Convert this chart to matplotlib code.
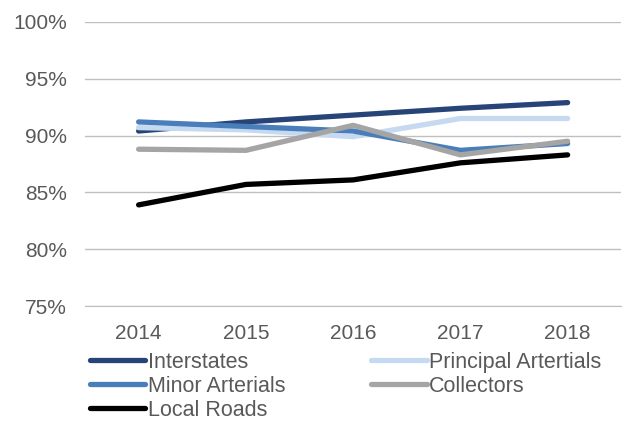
import matplotlib.pyplot as plt
from matplotlib.ticker import PercentFormatter

plt.rcParams['font.family'] = ['Liberation Sans', 'DejaVu Sans']

years = ['2014', '2015', '2016', '2017', '2018']
interstates = [90.4, 91.2, 91.8, 92.4, 92.9]
principal = [90.7, 90.5, 89.9, 91.5, 91.5]
minor = [91.2, 90.8, 90.4, 88.7, 89.3]
collectors = [88.8, 88.7, 90.9, 88.3, 89.5]
local_roads = [83.9, 85.7, 86.1, 87.6, 88.3]

fig = plt.figure(figsize=(6.25, 4.21), dpi=100)
ax = fig.add_axes([0.136, 0.273, 0.858, 0.675])

x = range(len(years))
lw = 3.8
l1, = ax.plot(x, interstates, color='#264478', lw=lw, solid_capstyle='round', label='Interstates')
l2, = ax.plot(x, principal, color='#C5D9F1', lw=lw, solid_capstyle='round', label='Principal Artertials')
l3, = ax.plot(x, minor, color='#4A7EBB', lw=lw, solid_capstyle='round', label='Minor Arterials')
l4, = ax.plot(x, collectors, color='#A5A5A5', lw=lw, solid_capstyle='round', label='Collectors')
l5, = ax.plot(x, local_roads, color='#000000', lw=lw, solid_capstyle='round', label='Local Roads')

ax.set_ylim(75, 100)
ax.set_yticks([75, 80, 85, 90, 95, 100])
ax.yaxis.set_major_formatter(PercentFormatter(decimals=0))
ax.set_xlim(-0.5, 4.5)
ax.set_xticks(list(x))
ax.set_xticklabels(years)
ax.grid(axis='y', color='#BFBFBF', lw=1)
ax.set_axisbelow(True)
for s in ['top', 'right', 'left']:
    ax.spines[s].set_visible(False)
ax.spines['bottom'].set_color('#BFBFBF')
ax.tick_params(length=0, labelsize=15, colors='#595959')
ax.tick_params(axis='y', pad=13)
ax.tick_params(axis='x', pad=13)

fig.legend(handles=[l1, l3, l5, l2, l4], ncol=2, loc='upper left',
           bbox_to_anchor=(0.126, 0.19), frameon=False, fontsize=15.5,
           labelcolor='#595959', handlelength=2.6, handletextpad=0.1,
           columnspacing=4.0, labelspacing=0.14, borderpad=0)

fig.savefig('out.png', dpi=100)
